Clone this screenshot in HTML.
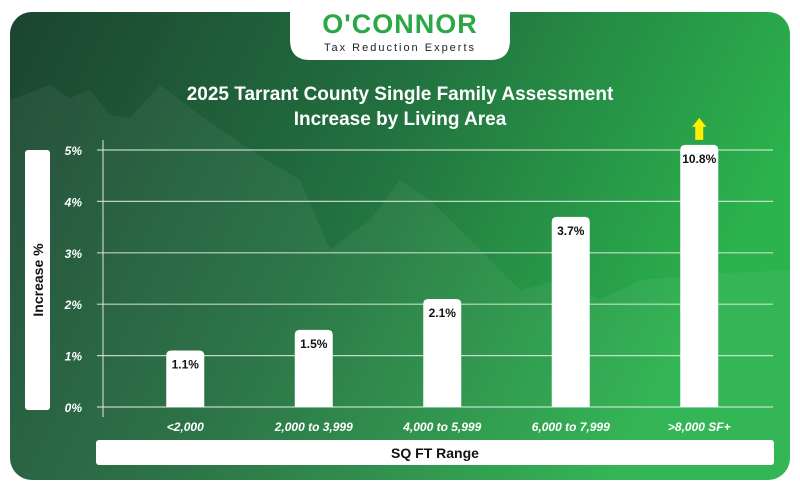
<!DOCTYPE html>
<html><head><meta charset="utf-8"><style>
body{margin:0;width:800px;height:492px;background:#fff;overflow:hidden;font-family:"Liberation Sans",sans-serif}
</style></head><body>
<svg width="800" height="492" viewBox="0 0 800 492" id="svg">
<defs>
<linearGradient id="bg" x1="0" y1="0" x2="1" y2="0.3">
<stop offset="0" stop-color="#1b4431"/><stop offset="0.5" stop-color="#22703f"/><stop offset="1" stop-color="#2bb34d"/>
</linearGradient>
</defs>
<rect x="10" y="12" width="780" height="468" rx="22" fill="url(#bg)"/>
<polygon points="10,100 50,85 70,98 90,90 110,115 130,118 160,85 200,115 250,150 300,180 330,250 370,220 400,180 430,200 480,250 520,290 560,280 600,300 640,280 700,275 790,270 790,480 10,480" fill="#ffffff" opacity="0.05"/>
<path d="M290,0 H510 V40 Q510,60 490,60 H310 Q290,60 290,40 Z" fill="#fff"/>
<text x="400" y="33" text-anchor="middle" font-size="27" font-weight="bold" fill="#2aa845" letter-spacing="1">O'CONNOR</text>
<text x="400" y="51" text-anchor="middle" font-size="11" fill="#222" letter-spacing="2">Tax Reduction Experts</text>
<text x="400" y="100" text-anchor="middle" font-size="19" font-weight="bold" fill="#fff">2025 Tarrant County Single Family Assessment</text>
<text x="400" y="125" text-anchor="middle" font-size="19" font-weight="bold" fill="#fff">Increase by Living Area</text>
<rect x="25" y="150" width="25" height="260" rx="3" fill="#fff"/>
<text transform="translate(43,280) rotate(-90)" text-anchor="middle" font-size="14" font-weight="bold" fill="#111">Increase %</text>
<rect x="96" y="440" width="678" height="25" rx="3" fill="#fff"/>
<text x="435" y="458" text-anchor="middle" font-size="14" font-weight="bold" fill="#111">SQ FT Range</text>
<line x1="103" y1="140" x2="103" y2="417" stroke="#dfe8df" stroke-width="1"/>
<g id="grid"></g><g id="bars"></g>
</svg>
<script>
const categories=["<2,000","2,000 to 3,999","4,000 to 5,999","6,000 to 7,999",">8,000 SF+"];
const values=[1.1,1.5,2.1,3.7,10.8];
const yTicks=[0,1,2,3,4,5];
const yMaxDisplay=5.1;
const NS="http://www.w3.org/2000/svg";
const y0=407,pxPer=51.4,xStart=121,band=128.5,bw=38;
const y=v=>y0-v*pxPer;
const x=i=>xStart+band*i+band/2;
function mk(t,a,p){const e=document.createElementNS(NS,t);for(const k in a)e.setAttribute(k,a[k]);p.appendChild(e);return e;}
const g=document.getElementById('grid'),b=document.getElementById('bars');
yTicks.forEach(t=>{
 const l=mk('line',{x1:97,x2:773,y1:y(t),y2:y(t),stroke:'#e6efe6','stroke-width':1.2,opacity:0.8},g);
 
 
 const tx=mk('text',{x:82,y:y(t)+5,'text-anchor':'end','font-size':12,'font-weight':'bold','font-style':'italic',fill:'#fff'},g);
 tx.textContent=t+'%';
 
 
});
values.forEach((v,i)=>{
 const dv=Math.min(v,yMaxDisplay),top=y(dv),h=y0-top;
 const r=mk('path',{d:`M${x(i)-bw/2},${y0} V${top+5} Q${x(i)-bw/2},${top} ${x(i)-bw/2+5},${top} H${x(i)+bw/2-5} Q${x(i)+bw/2},${top} ${x(i)+bw/2},${top+5} V${y0} Z`,fill:'#fff'},b);
 
 
 const lt=mk('text',{x:x(i),y:top+18,'text-anchor':'middle','font-size':12,'font-weight':'bold',fill:'#111'},b);
 lt.textContent=v+'%';
 
 
 const ct=mk('text',{x:x(i),y:431,'text-anchor':'middle','font-size':12,'font-weight':'bold','font-style':'italic',fill:'#fff'},b);
 ct.textContent=categories[i];
 
 
 if(v>yMaxDisplay){
  const a=mk('polygon',{points:`${x(i)-4},${top-5} ${x(i)-4},${top-18} ${x(i)-7},${top-18} ${x(i)},${top-27} ${x(i)+7},${top-18} ${x(i)+4},${top-18} ${x(i)+4},${top-5}`,fill:'#ffee00'},b);
  
  
 }
});
</script>
</body></html>
